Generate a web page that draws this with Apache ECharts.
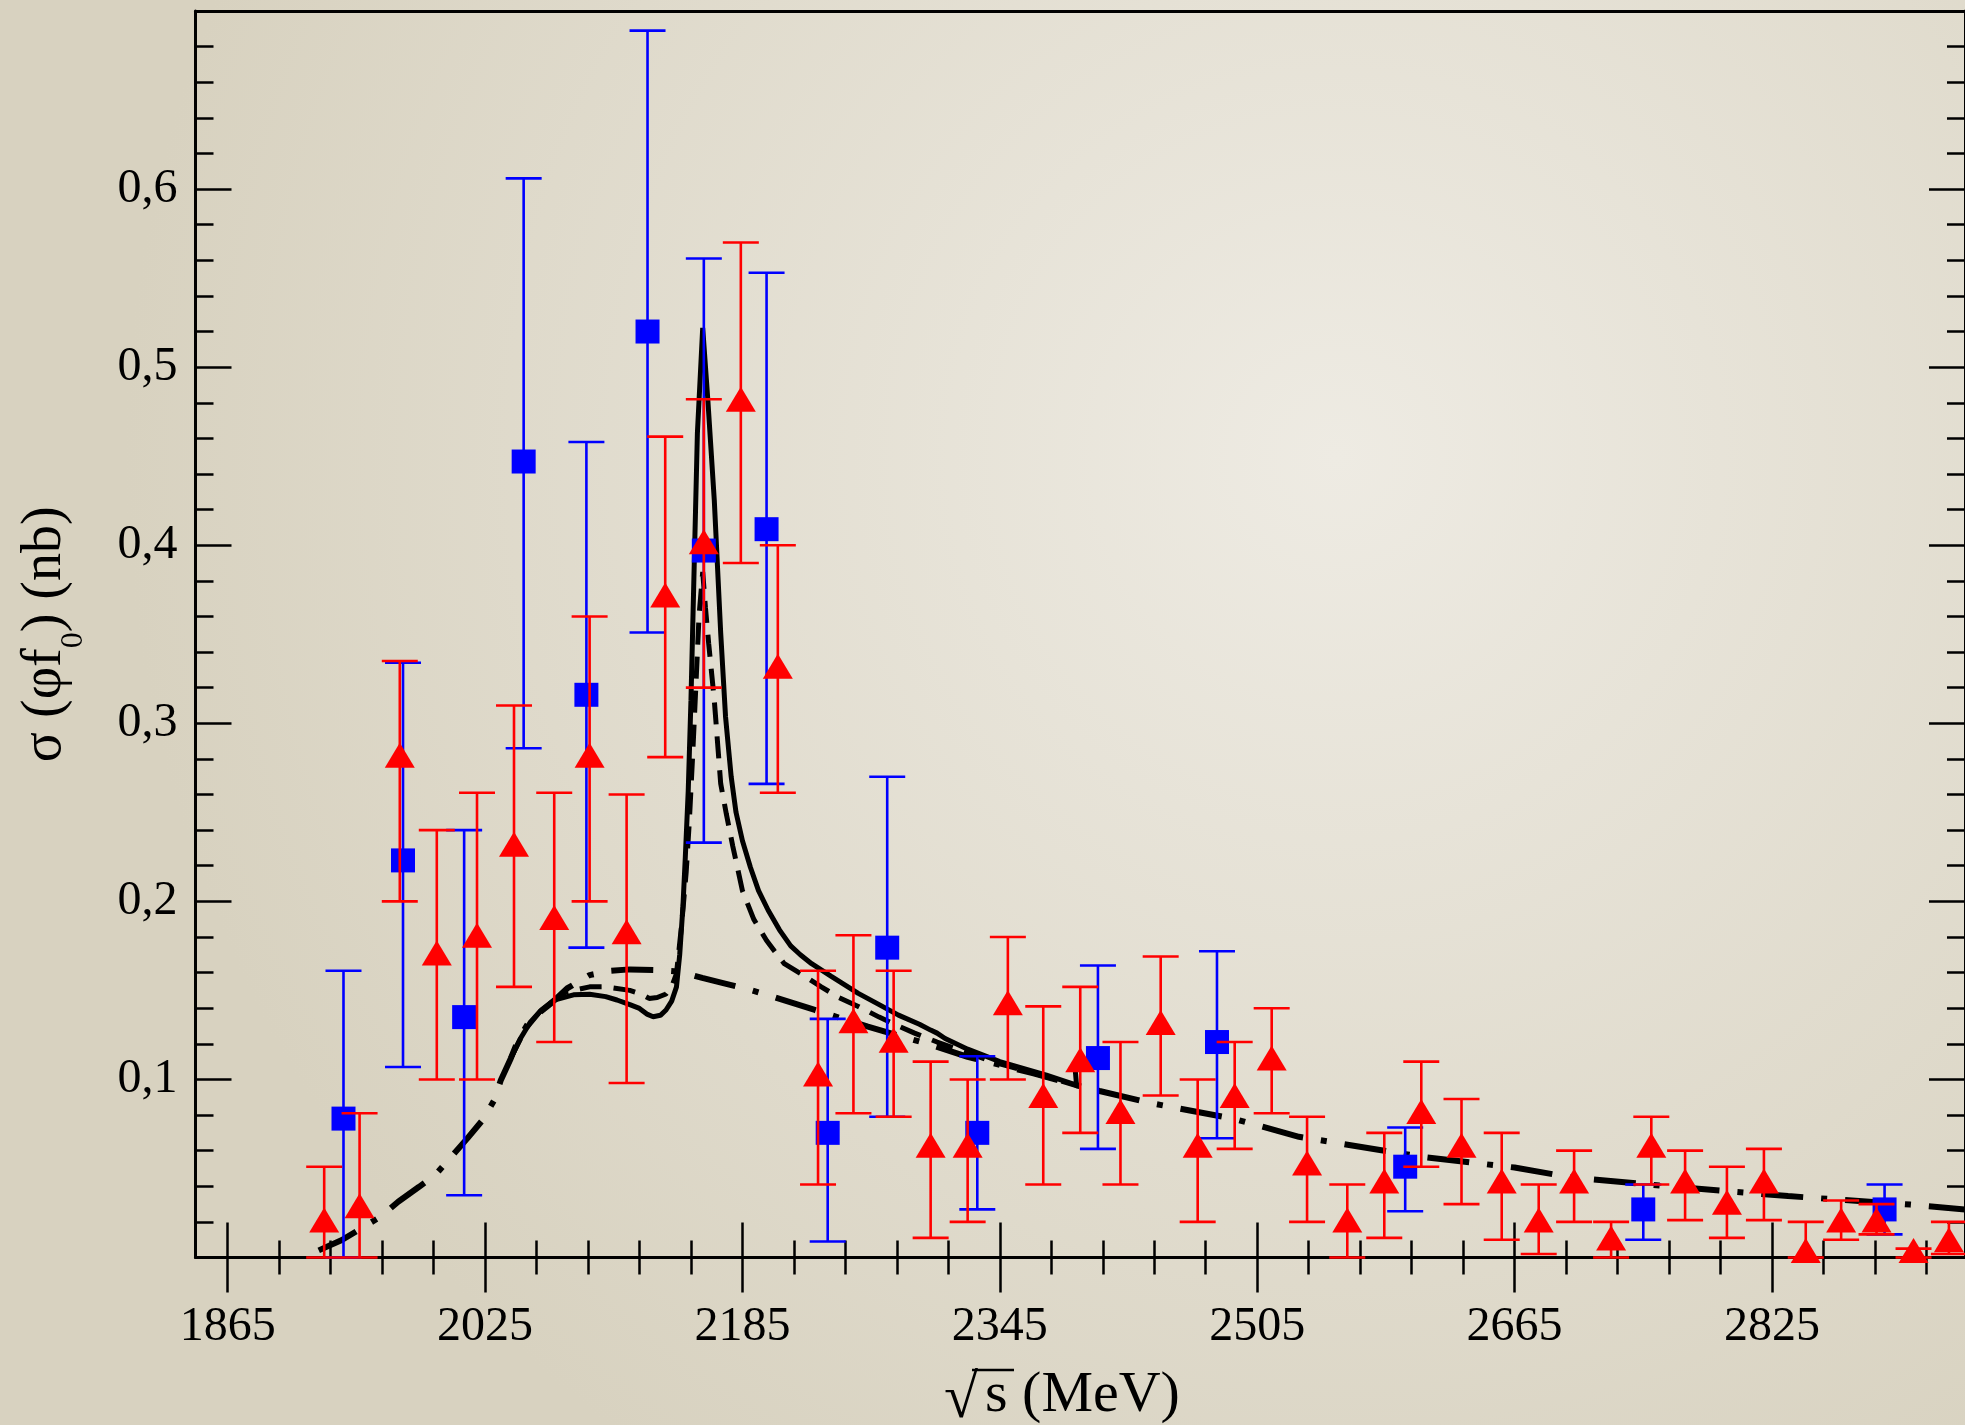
<!DOCTYPE html>
<html>
<head>
<meta charset="utf-8">
<script src="https://cdn.jsdelivr.net/npm/echarts@6/dist/echarts.min.js"></script>
<style>
  html, body { margin: 0; padding: 0; }
  #chart { width: 1965px; height: 1425px; }
</style>
</head>
<body>
<div id="chart"></div>
<script>
// x axis ticks (MeV)
const xMajor = [1865, 2025, 2185, 2345, 2505, 2665, 2825];
const xMinor = [1897, 1929, 1961, 1993, 2057, 2089, 2121, 2153, 2217, 2249, 2281, 2313,
  2377, 2409, 2441, 2473, 2537, 2569, 2601, 2633, 2697, 2729, 2761, 2793, 2857, 2889, 2921];
const yLabels = [0.1, 0.2, 0.3, 0.4, 0.5, 0.6];

// blue squares
const blueX = [1937, 1974, 2012, 2049, 2088, 2126, 2161, 2200, 2238, 2275, 2331, 2406, 2480, 2597, 2745, 2895];
const blueY = [0.078, 0.223, 0.135, 0.447, 0.316, 0.520, 0.397, 0.409, 0.070, 0.174, 0.070, 0.112, 0.121, 0.051, 0.027, 0.027];
const blueLo = [0.000, 0.107, 0.035, 0.286, 0.174, 0.351, 0.233, 0.266, 0.009, 0.079, 0.027, 0.061, 0.067, 0.026, 0.010, 0.013];
const blueHi = [0.161, 0.334, 0.240, 0.606, 0.458, 0.689, 0.561, 0.553, 0.134, 0.270, 0.113, 0.164, 0.172, 0.073, 0.041, 0.041];

// red triangles
const redX = [1925, 1947, 1972, 1995, 2020, 2043, 2068, 2090, 2113, 2137, 2161, 2184, 2207, 2232, 2254,
  2279, 2302, 2325, 2350, 2372, 2395, 2420, 2445, 2468, 2491, 2514, 2536, 2561, 2584, 2607,
  2632, 2657, 2680, 2702, 2725, 2750, 2771, 2797, 2820, 2846, 2868, 2890, 2913, 2935];
const redY = [0.021, 0.029, 0.282, 0.171, 0.181, 0.232, 0.191, 0.282, 0.183, 0.372, 0.402, 0.482, 0.332, 0.103, 0.133,
  0.122, 0.063, 0.063, 0.143, 0.091, 0.111, 0.082, 0.132, 0.063, 0.091, 0.112, 0.053, 0.021, 0.043, 0.082,
  0.063, 0.043, 0.021, 0.043, 0.011, 0.063, 0.043, 0.031, 0.043, 0.004, 0.021, 0.021, 0.004, 0.010];
const redLo = [0.000, 0.000, 0.200, 0.100, 0.100, 0.152, 0.121, 0.200, 0.098, 0.281, 0.320, 0.390, 0.261, 0.041, 0.081,
  0.079, 0.011, 0.020, 0.100, 0.041, 0.070, 0.041, 0.091, 0.020, 0.061, 0.081, 0.020, 0.000, 0.011, 0.051,
  0.030, 0.010, 0.002, 0.020, 0.000, 0.041, 0.021, 0.011, 0.021, 0.000, 0.010, 0.013, 0.000, 0.002];
const redHi = [0.051, 0.081, 0.335, 0.240, 0.261, 0.310, 0.261, 0.360, 0.260, 0.461, 0.482, 0.570, 0.400, 0.161, 0.181,
  0.161, 0.110, 0.100, 0.180, 0.141, 0.152, 0.121, 0.169, 0.100, 0.121, 0.140, 0.079, 0.041, 0.070, 0.110,
  0.089, 0.070, 0.041, 0.060, 0.020, 0.079, 0.060, 0.051, 0.061, 0.020, 0.032, 0.030, 0.005, 0.020];

// model curves
const solidX = [2041, 2047, 2053, 2060, 2068, 2080, 2090, 2100, 2107, 2115, 2121, 2126, 2129.5, 2134, 2137.5,
  2141, 2144, 2146, 2148, 2149.5, 2151.3, 2153, 2155, 2157, 2160.3, 2163.5, 2167.5, 2171.5, 2174.5, 2178,
  2181, 2185, 2190, 2195, 2201, 2208, 2215, 2221, 2228, 2240, 2257, 2270, 2282, 2295, 2302,
  2306, 2311, 2325, 2345, 2374, 2392.7, 2391.8];
const solidY = [0.112, 0.123, 0.132, 0.139, 0.1446, 0.1475, 0.1478, 0.1465, 0.1446, 0.142, 0.1399, 0.1365, 0.1352, 0.136, 0.139,
  0.144, 0.152, 0.170, 0.197, 0.225, 0.262, 0.313, 0.388, 0.463, 0.522, 0.4815, 0.4253, 0.3505, 0.3037, 0.270,
  0.250, 0.234, 0.219, 0.206, 0.195, 0.184, 0.175, 0.170, 0.165, 0.158, 0.1483, 0.142, 0.1361, 0.131, 0.1277,
  0.126, 0.123, 0.117, 0.110, 0.1024, 0.0968, 0.1062];

const dashedX = [2041, 2050, 2060, 2075, 2090, 2100, 2115, 2122, 2127, 2132, 2137.5, 2141, 2144, 2147, 2150,
  2152, 2154, 2156, 2158, 2160.3, 2162, 2164, 2167.5, 2171.5, 2175, 2179, 2185, 2192, 2200, 2205,
  2211, 2222, 2234, 2245, 2257, 2270, 2282, 2292, 2306, 2325, 2340, 2360, 2380, 2392];
const dashedY = [0.112, 0.128, 0.139, 0.149, 0.152, 0.152, 0.150, 0.148, 0.1455, 0.146, 0.148, 0.152, 0.1595, 0.185, 0.216,
  0.245, 0.281, 0.320, 0.360, 0.385, 0.365, 0.345, 0.313, 0.266, 0.249, 0.231, 0.206, 0.190, 0.178, 0.172,
  0.165, 0.159, 0.152, 0.146, 0.141, 0.135, 0.130, 0.126, 0.121, 0.115, 0.110, 0.105, 0.100, 0.0966];

const dashDotX = [1921.6, 1936, 1960, 1971, 1984, 1994, 2004, 2014, 2023.5, 2030.7, 2034.8, 2041, 2046, 2053, 2066,
  2076, 2090, 2103, 2115, 2132, 2146, 2160, 2173, 2189, 2204, 2230, 2263, 2300, 2325, 2366,
  2393, 2407, 2440, 2490, 2531, 2607, 2665, 2700, 2760, 2835, 2911, 2945];
const dashDotY = [0.004, 0.0098, 0.0229, 0.0313, 0.0397, 0.0463, 0.0566, 0.0669, 0.0772, 0.0884, 0.0996, 0.1118, 0.123, 0.1333, 0.1427,
  0.1511, 0.1586, 0.161, 0.1618, 0.1614, 0.1605, 0.157, 0.1541, 0.1505, 0.1464, 0.139, 0.1296, 0.120, 0.1127, 0.1034,
  0.0966, 0.0935, 0.0865, 0.078, 0.0678, 0.0566, 0.0505, 0.045, 0.040, 0.0345, 0.0297, 0.027];

const font = 'Liberation Serif';
const zip = (xs, ys) => xs.map((x, i) => [x, ys[i]]);

const chart = echarts.init(document.getElementById('chart'));

// one helper for the stacked x axes (ticks cross the axis line)
function xAx(extra) {
  return Object.assign({
    type: 'value', min: 1845, max: 2945, position: 'bottom',
    splitLine: { show: false },
    axisLine: { show: false, onZero: false },
    axisLabel: { show: false },
    axisTick: { show: false }
  }, extra);
}
const tickStyle = { color: '#000', width: 2.5 };

function yAx(pos, extra) {
  return Object.assign({
    type: 'value', min: 0, max: 0.7, interval: 0.1, position: pos,
    splitLine: { show: false },
    axisLine: { show: true, onZero: false, lineStyle: { color: '#000', width: 3 } },
    axisTick: { show: true, inside: true, length: 36, lineStyle: tickStyle },
    minorTick: { show: true, splitNumber: 5, length: 18, lineStyle: tickStyle },
    axisLabel: { show: false }
  }, extra);
}

// error bars drawn through the axis scales
function errBars(color) {
  return function (params, api) {
    const x = api.value(0);
    const top = api.coord([x, api.value(2)]);
    const bot = api.coord([x, api.value(1)]);
    const hw = 18;
    const style = { stroke: color, lineWidth: 2.6 };
    return {
      type: 'group',
      children: [
        { type: 'line', shape: { x1: top[0], y1: top[1], x2: bot[0], y2: bot[1] }, style: style },
        { type: 'line', shape: { x1: top[0] - hw, y1: top[1], x2: top[0] + hw, y2: top[1] }, style: style },
        { type: 'line', shape: { x1: bot[0] - hw, y1: bot[1], x2: bot[0] + hw, y2: bot[1] }, style: style }
      ]
    };
  };
}

const option = {
  animation: false,
  backgroundColor: {
    type: 'radial', x: 0.68, y: 0.32, r: 0.85,
    colorStops: [{ offset: 0, color: '#eeebe3' }, { offset: 1, color: '#d8d2c0' }]
  },
  grid: { left: 195.5, top: 11, right: -13, bottom: 167.5 },
  xAxis: [
    xAx({
      axisLine: { show: true, onZero: false, lineStyle: { color: '#000', width: 3 } },
      axisTick: { show: true, inside: true, length: 35, customValues: xMajor, lineStyle: tickStyle },
      axisLabel: { show: true, customValues: xMajor, margin: 46, formatter: v => String(v),
        fontFamily: font, fontSize: 48, color: '#000' }
    }),
    xAx({ axisTick: { show: true, inside: false, length: 35, customValues: xMajor, lineStyle: tickStyle } }),
    xAx({ axisTick: { show: true, inside: true, length: 17, customValues: xMinor, lineStyle: tickStyle } }),
    xAx({ axisTick: { show: true, inside: false, length: 17, customValues: xMinor, lineStyle: tickStyle } }),
    xAx({ position: 'top', axisLine: { show: true, onZero: false, lineStyle: { color: '#000', width: 3 } } })
  ],
  yAxis: [
    yAx('left', {
      axisLabel: {
        show: true, customValues: yLabels, margin: 18,
        formatter: v => v.toFixed(1).replace('.', ','),
        fontFamily: font, fontSize: 48, color: '#000'
      },
      name: '{a|σ (φf}{s|0}{a|) (nb)}',
      nameLocation: 'middle', nameRotate: 90, nameGap: 122,
      nameTextStyle: {
        rich: {
          a: { fontFamily: font, fontSize: 56, lineHeight: 56, color: '#000', verticalAlign: 'top' },
          s: { fontFamily: font, fontSize: 32, lineHeight: 32, color: '#000', verticalAlign: 'top', padding: [40, 0, 0, 0] }
        }
      }
    }),
    yAx('right', {})
  ],
  // x axis title: radical, bar over s, then the rest
  graphic: [
    { type: 'text', x: 944, y: 1401, z: 10,
      style: { text: '√', align: 'left', verticalAlign: 'middle', font: '62px "Liberation Serif"', fill: '#000' } },
    { type: 'line', z: 10, shape: { x1: 972, y1: 1370, x2: 1014, y2: 1370 },
      style: { stroke: '#000', lineWidth: 2.5 } },
    { type: 'text', x: 985, y: 1396, z: 10,
      style: { text: 's (MeV)', align: 'left', verticalAlign: 'middle', font: '58px "Liberation Serif"', fill: '#000' } }
  ],
  series: [
    { type: 'line', data: zip(dashDotX, dashDotY), showSymbol: false, z: 2,
      lineStyle: { color: '#000', width: 6, type: [42, 18, 6, 18], cap: 'butt' } },
    { type: 'line', data: zip(dashedX, dashedY), showSymbol: false, z: 2,
      lineStyle: { color: '#000', width: 5, type: [22, 12], cap: 'butt' } },
    { type: 'line', data: zip(solidX, solidY), showSymbol: false, z: 2,
      lineStyle: { color: '#000', width: 5 } },
    { type: 'custom', z: 3, renderItem: errBars('#0000ff'), encode: { x: 0, y: [1, 2] },
      data: blueX.map((x, i) => [x, blueLo[i], blueHi[i]]) },
    { type: 'scatter', z: 4, symbol: 'rect', symbolSize: 24, itemStyle: { color: '#0000ff', opacity: 1 },
      data: zip(blueX, blueY) },
    { type: 'custom', z: 5, renderItem: errBars('#ff0000'), encode: { x: 0, y: [1, 2] },
      data: redX.map((x, i) => [x, redLo[i], redHi[i]]) },
    { type: 'scatter', z: 6, symbol: 'triangle', symbolSize: [30, 25], itemStyle: { color: '#ff0000', opacity: 1 },
      data: zip(redX, redY) }
  ]
};

option && chart.setOption(option);
</script>
</body>
</html>
